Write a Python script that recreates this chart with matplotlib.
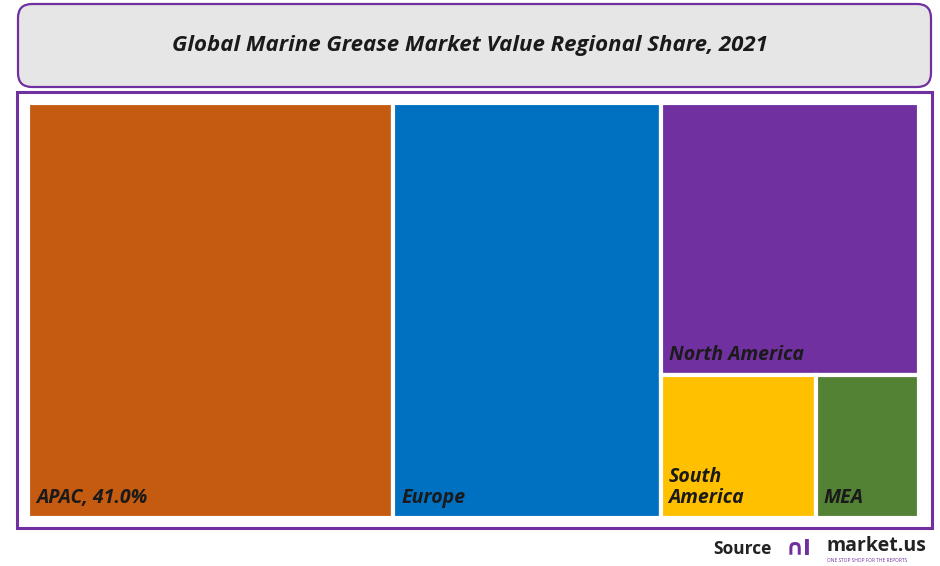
import matplotlib.pyplot as plt
from matplotlib.patches import FancyBboxPatch, Rectangle

regions = ["APAC", "Europe", "North America", "South America", "MEA"]
shares = [41.0, 30.0, 19.0, 6.0, 4.0]
labels = ["APAC, 41.0%", "Europe", "North America", "South\nAmerica", "MEA"]
colors = ["#C55A11", "#0070C0", "#7030A0", "#FFC000", "#548235"]

FONT = "Open Sans"
W, H = 940, 566
fig = plt.figure(figsize=(W / 100, H / 100), dpi=100)
ax = fig.add_axes([0, 0, 1, 1])
ax.set_xlim(0, W)
ax.set_ylim(H, 0)
ax.axis("off")

# title box
ax.add_patch(FancyBboxPatch((18, 4), 913, 83, boxstyle="round,pad=0,rounding_size=14",
                            fc="#E7E6E6", ec="#7030A0", lw=1.6))
ax.text(W / 2, 46, "Global Marine Grease Market Value Regional Share, 2021",
        ha="center", va="center", fontsize=16, fontweight="bold", style="italic",
        family=FONT, color="#1a1a1a")

# treemap frame
ax.add_patch(Rectangle((17, 92), 915, 436, fc="white", ec="#7030A0", lw=2.2))

# layout: two big columns, then a stacked column with a bottom row
x0, y0, x1, y1 = 28, 103, 919, 518
total = sum(shares)
tw, th = x1 - x0, y1 - y0
rects = []
x = x0
for s in shares[:2]:
    w = tw * s / total
    rects.append((x, y0, w, th))
    x += w
rest = sum(shares[2:])
cw = x1 - x
nh = th * shares[2] / rest
rects.append((x, y0, cw, nh))
bottom = sum(shares[3:])
bx = x
for s in shares[3:]:
    w = cw * s / bottom
    rects.append((bx, y0 + nh, w, th - nh))
    bx += w

for (rx, ry, rw, rh), c, lab in zip(rects, colors, labels):
    ax.add_patch(Rectangle((rx, ry), rw, rh, fc=c, ec="white", lw=3))
    ax.text(rx + 8, ry + rh - 10, lab, ha="left", va="bottom", fontsize=14,
            fontweight="bold", style="italic", family=FONT, color="#1a1a1a",
            linespacing=1.05)

# source
ax.text(772, 549, "Source", ha="right", va="center", fontsize=12.5,
        fontweight="bold", family=FONT, color="#222222")
ax.text(786, 549, "\u2229l", ha="left", va="center", fontsize=16,
        fontweight="bold", family=["DejaVu Sans"], color="#7030A0")
ax.text(826, 546, "market.us", ha="left", va="center", fontsize=14,
        fontweight="bold", family=FONT, color="#222222")
ax.text(827, 560, "ONE STOP SHOP FOR THE REPORTS", ha="left", va="center",
        fontsize=3.5, family=FONT, color="#7030A0")

fig.savefig("out.png", dpi=100)
